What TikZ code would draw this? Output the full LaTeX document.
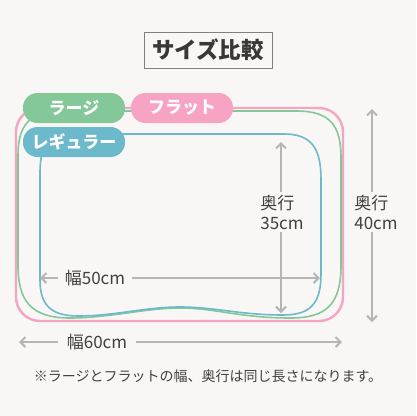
\documentclass[tikz,border=0pt]{standalone}
\usepackage{fontspec}
\setmainfont{Noto Sans CJK JP}
\usetikzlibrary{arrows.meta}

\definecolor{bg}{HTML}{F9F7F6}
\definecolor{pinkc}{HTML}{F7A3C3}
\definecolor{greenc}{HTML}{84C89A}
\definecolor{bluec}{HTML}{6BB9CB}
\definecolor{arrowc}{HTML}{B5B5B5}
\definecolor{textc}{HTML}{404040}

\begin{document}
\begin{tikzpicture}[x=1pt, y=-1pt]

    \tikzset{pill/.style={%
      rounded corners=14.5pt,%
      minimum width=102pt,%
      minimum height=30pt,%
      inner sep=0pt,%
      text=white,%
      font=\fontsize{17}{19}\selectfont\bfseries}%
    };

    \tikzset{dim/.style={draw=arrowc, line width=2pt, {Straight Barb[length=5pt,width=10pt]}-{Straight Barb[length=5pt,width=10pt]}}};
    \tikzset{dimlabel/.style={fill=bg, text=textc, inner ysep=3pt, inner xsep=7pt, align=left,%
      font=\fontsize{17}{20}\selectfont}};

    \fill [bg] (0,0) rectangle (416,416);
    \useasboundingbox (0,0) rectangle (416,416);

    %%%%%%%%%%%%%%%
    %   title     %
    %%%%%%%%%%%%%%%
    \node [draw=black!50, line width=0.8pt, minimum width=128pt, minimum height=36pt, inner sep=0pt,
      text=black!78, font=\fontsize{22.5}{24}\selectfont\bfseries] (title) at (208,50) {サイズ比較};

    %%%%%%%%%%%%%%%
    %  outlines   %
    %%%%%%%%%%%%%%%
    \draw [pinkc, line width=2.4pt, rounded corners=24pt] (16,108) rectangle (343,321);

    \draw [greenc, line width=1.6pt] (18,155) .. controls (18,125) and (30,111) .. (62,111)
      -- (296,111) .. controls (330,111) and (341,125) .. (341,158)
      -- (341,265) .. controls (341,305) and (326,318) .. (290,318)
      .. controls (240,318) and (215,308) .. (180,308)
      .. controls (145,308) and (110,318) .. (70,318)
      .. controls (30,318) and (18,300) .. (18,265) -- cycle;

    \draw [bluec, line width=1.6pt] (40,172) .. controls (40,144) and (50,134) .. (80,134)
      -- (284,134) .. controls (313,134) and (321,150) .. (321,180)
      -- (321,274) .. controls (321,304) and (310,315) .. (283,315)
      .. controls (240,315) and (215,307) .. (180,307)
      .. controls (145,307) and (115,316) .. (78,316)
      .. controls (50,316) and (40,304) .. (40,280) -- cycle;

    %%%%%%%%%%%%%%%
    %   labels    %
    %%%%%%%%%%%%%%%
    \node [pill, fill=greenc] (large) at (74,108) {ラージ};
    \node [pill, fill=pinkc] (flat) at (182,108) {フラット};
    \node [pill, fill=bluec] (regular) at (74,142) {レギュラー};

    %%%%%%%%%%%%%%%
    % dimensions  %
    %%%%%%%%%%%%%%%
    \coordinate (d35top) at (281,142);
    \coordinate (d35bot) at (281,313);
    \coordinate (d40top) at (372,109);
    \coordinate (d40bot) at (372,322);
    \coordinate (w50l) at (40,278);
    \coordinate (w50r) at (320,278);
    \coordinate (w60l) at (19,342);
    \coordinate (w60r) at (342,342);

    \draw [dim] (d35top) -- (d35bot);
    \draw [dim] (d40top) -- (d40bot);
    \draw [dim] (w50l) -- (w50r);
    \draw [dim] (w60l) -- (w60r);

    \node [dimlabel] (l35) at (282,212) {奥行\\35cm};
    \node [dimlabel] (l40) at (376,212) {奥行\\40cm};
    \node [dimlabel] (l50) at (95,278) {幅50cm};
    \node [dimlabel, inner xsep=9pt] (l60) at (97,342) {幅60cm};

    %%%%%%%%%%%%%%%
    %    note     %
    %%%%%%%%%%%%%%%
    \node [text=textc, font=\fontsize{14}{16}\selectfont] (note) at (208,376)
      {※ラージとフラットの幅、奥行は同じ長さになります。};

  \end{tikzpicture}
\end{document}
